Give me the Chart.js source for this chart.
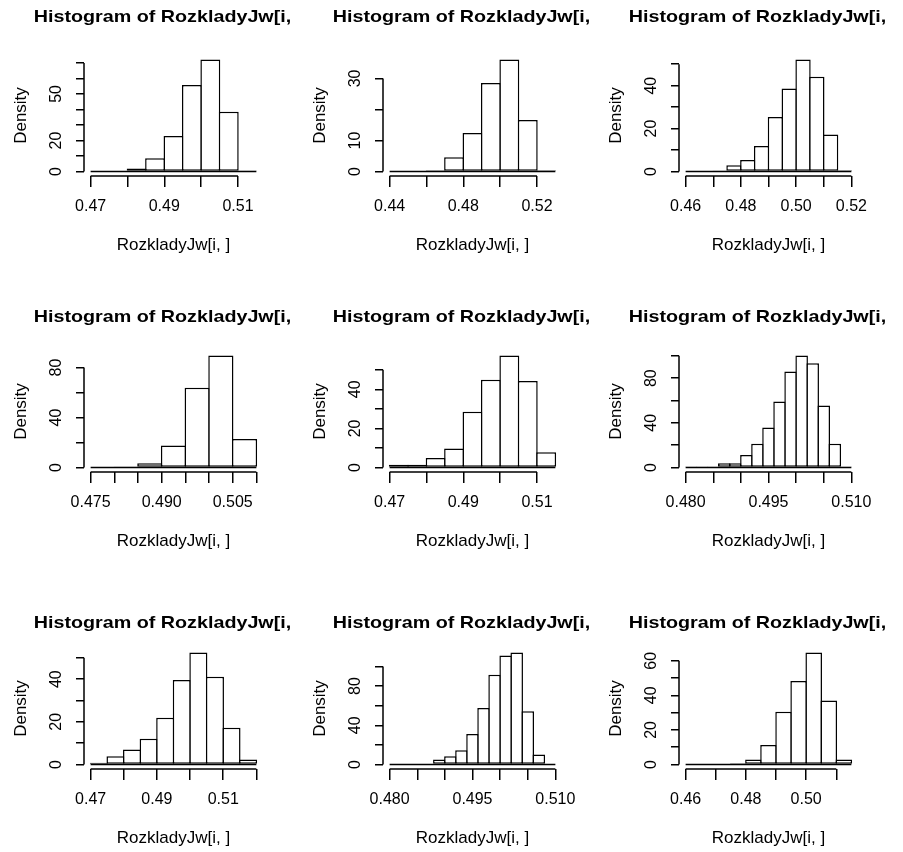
<!DOCTYPE html>
<html>
<head>
<meta charset="utf-8">
<script src="https://cdn.jsdelivr.net/npm/chart.js@4.4.1/dist/chart.umd.min.js"></script>
<style>
  html, body { margin: 0; padding: 0; background: #fff; }
  #wrap { position: relative; width: 903px; height: 852px; overflow: hidden; background: #fff; }
  canvas { position: absolute; }
</style>
</head>
<body>
<div id="wrap"></div>
<script>
const mainTitle = 'Histogram of RozkladyJw[i, ]';
const xTitle = 'RozkladyJw[i, ]';
const yTitle = 'Density';

// panel 1
const breaks1 = [0.470, 0.475, 0.480, 0.485, 0.490, 0.495, 0.500, 0.505, 0.510, 0.515];
const dens1 = [0, 0, 2.0, 8.6, 22.9, 55.7, 72.2, 38.5, 0.6];
const xTicks1 = [0.47, 0.48, 0.49, 0.50, 0.51];
const xLab1 = ['0.47', '', '0.49', '', '0.51'];
const yTicks1 = [0, 10, 20, 30, 40, 50, 60, 70];
const yLab1 = ['0', '', '20', '', '', '50', '', ''];

// panel 2
const breaks2 = [0.44, 0.45, 0.46, 0.47, 0.48, 0.49, 0.50, 0.51, 0.52, 0.53];
const dens2 = [0, 0, 0.4, 4.6, 12.4, 28.5, 36.1, 16.6, 0.4];
const xTicks2 = [0.44, 0.46, 0.48, 0.50, 0.52];
const xLab2 = ['0.44', '', '0.48', '', '0.52'];
const yTicks2 = [0, 10, 20, 30];
const yLab2 = ['0', '10', '', '30'];

// panel 3
const breaks3 = [0.460, 0.465, 0.470, 0.475, 0.480, 0.485, 0.490, 0.495, 0.500, 0.505, 0.510, 0.515, 0.520];
const dens3 = [0, 0, 0.5, 2.9, 5.4, 11.9, 25.4, 38.7, 52.2, 44.1, 17.2, 0.6];
const xTicks3 = [0.46, 0.47, 0.48, 0.49, 0.50, 0.51, 0.52];
const xLab3 = ['0.46', '', '0.48', '', '0.50', '', '0.52'];
const yTicks3 = [0, 10, 20, 30, 40, 50];
const yLab3 = ['0', '', '20', '', '40', ''];

// panel 4
const breaks4 = [0.475, 0.480, 0.485, 0.490, 0.495, 0.500, 0.505, 0.510];
const dens4 = [0, 0.8, 3.5, 17.6, 63.7, 89.6, 22.9];
const xTicks4 = [0.475, 0.480, 0.485, 0.490, 0.495, 0.500, 0.505, 0.510];
const xLab4 = ['0.475', '', '', '0.490', '', '', '0.505', ''];
const yTicks4 = [0, 20, 40, 60, 80];
const yLab4 = ['0', '', '40', '', '80'];

// panel 5
const breaks5 = [0.470, 0.475, 0.480, 0.485, 0.490, 0.495, 0.500, 0.505, 0.510, 0.515];
const dens5 = [1.4, 1.4, 4.9, 9.7, 28.5, 44.9, 57.3, 44.2, 7.8];
const xTicks5 = [0.47, 0.48, 0.49, 0.50, 0.51];
const xLab5 = ['0.47', '', '0.49', '', '0.51'];
const yTicks5 = [0, 10, 20, 30, 40, 50];
const yLab5 = ['0', '', '20', '', '40', ''];

// panel 6
const breaks6 = [0.480, 0.482, 0.484, 0.486, 0.488, 0.490, 0.492, 0.494, 0.496, 0.498, 0.500, 0.502, 0.504, 0.506, 0.508, 0.510];
const dens6 = [0.8, 0.8, 0.8, 3.9, 3.9, 11.3, 21.2, 35.8, 59.1, 86.0, 100.3, 93.4, 55.5, 21.2, 1.0];
const xTicks6 = [0.480, 0.485, 0.490, 0.495, 0.500, 0.505, 0.510];
const xLab6 = ['0.480', '', '', '0.495', '', '', '0.510'];
const yTicks6 = [0, 20, 40, 60, 80, 100];
const yLab6 = ['0', '', '40', '', '80', ''];

// panel 7
const breaks7 = [0.470, 0.475, 0.480, 0.485, 0.490, 0.495, 0.500, 0.505, 0.510, 0.515, 0.520];
const dens7 = [0.8, 3.9, 7.0, 12.1, 21.9, 39.6, 52.5, 41.1, 17.2, 2.3];
const xTicks7 = [0.47, 0.48, 0.49, 0.50, 0.51, 0.52];
const xLab7 = ['0.47', '', '0.49', '', '0.51', ''];
const yTicks7 = [0, 10, 20, 30, 40, 50];
const yLab7 = ['0', '', '20', '', '40', ''];

// panel 8
const breaks8 = [0.480, 0.482, 0.484, 0.486, 0.488, 0.490, 0.492, 0.494, 0.496, 0.498, 0.500, 0.502, 0.504, 0.506, 0.508, 0.510];
const dens8 = [0, 0, 0.7, 0.7, 5.1, 8.5, 14.6, 31.2, 57.6, 91.5, 111.2, 114.2, 54.2, 10.2, 0];
const xTicks8 = [0.480, 0.485, 0.490, 0.495, 0.500, 0.505, 0.510];
const xLab8 = ['0.480', '', '', '0.495', '', '', '0.510'];
const yTicks8 = [0, 20, 40, 60, 80, 100];
const yLab8 = ['0', '', '40', '', '80', ''];

// panel 9
const breaks9 = [0.460, 0.465, 0.470, 0.475, 0.480, 0.485, 0.490, 0.495, 0.500, 0.505, 0.510, 0.515];
const dens9 = [0, 0, 0, 0.7, 2.9, 11.3, 30.5, 48.3, 64.8, 37.0, 2.9];
const xTicks9 = [0.46, 0.47, 0.48, 0.49, 0.50, 0.51];
const xLab9 = ['0.46', '', '0.48', '', '0.50', ''];
const yTicks9 = [0, 10, 20, 30, 40, 50, 60];
const yLab9 = ['0', '', '20', '', '40', '', '60'];

const panels = [
    { breaks: breaks1, dens: dens1, xt: xTicks1, xl: xLab1, yt: yTicks1, yl: yLab1 },
    { breaks: breaks2, dens: dens2, xt: xTicks2, xl: xLab2, yt: yTicks2, yl: yLab2 },
    { breaks: breaks3, dens: dens3, xt: xTicks3, xl: xLab3, yt: yTicks3, yl: yLab3 },
    { breaks: breaks4, dens: dens4, xt: xTicks4, xl: xLab4, yt: yTicks4, yl: yLab4 },
    { breaks: breaks5, dens: dens5, xt: xTicks5, xl: xLab5, yt: yTicks5, yl: yLab5 },
    { breaks: breaks6, dens: dens6, xt: xTicks6, xl: xLab6, yt: yTicks6, yl: yLab6 },
    { breaks: breaks7, dens: dens7, xt: xTicks7, xl: xLab7, yt: yTicks7, yl: yLab7 },
    { breaks: breaks8, dens: dens8, xt: xTicks8, xl: xLab8, yt: yTicks8, yl: yLab8 },
    { breaks: breaks9, dens: dens9, xt: xTicks9, xl: xLab9, yt: yTicks9, yl: yLab9 }
];

// layout of the 3x3 grid (pixels); canvas width also clips the title like R does
const colLeft = [0, 299, 595];
const colWidth = [296, 294, 296];
const rowTop = [0, 296, 593];
const rowHeight = [296, 297, 259];
const titleBase = [22, 322, 628];
const plotLeft = 84, plotTop = 55, plotW = 179, plotH = 121, xBox = 80;
const LW = 1.5;
const FONT = '"Liberation Sans", Arial, Helvetica, sans-serif';

Chart.defaults.font.family = FONT;
Chart.defaults.color = '#000';

// R style axes: line only from first to last tick, rotated y labels, clipped title
function rAxes(p, titleY) {
    return {
        id: 'rAxes',
        afterDraw(chart) {
            const { ctx, chartArea: ca, scales: { x, y } } = chart;
            ctx.save();
            ctx.strokeStyle = '#000';
            ctx.lineWidth = LW;
            ctx.beginPath();
            ctx.moveTo(x.getPixelForValue(p.xt[0]), ca.bottom);
            ctx.lineTo(x.getPixelForValue(p.xt[p.xt.length - 1]), ca.bottom);
            ctx.moveTo(ca.left, y.getPixelForValue(p.yt[0]));
            ctx.lineTo(ca.left, y.getPixelForValue(p.yt[p.yt.length - 1]));
            ctx.stroke();

            ctx.fillStyle = '#000';
            ctx.font = '16px ' + FONT;
            ctx.textAlign = 'center';
            ctx.textBaseline = 'middle';
            p.yt.forEach((v, k) => {
                if (!p.yl[k]) return;
                ctx.save();
                ctx.translate(ca.left - 27, y.getPixelForValue(v));
                ctx.rotate(-Math.PI / 2);
                ctx.fillText(p.yl[k], 0, 0);
                ctx.restore();
            });

            ctx.font = 'bold 17px ' + FONT;
            ctx.textBaseline = 'alphabetic';
            ctx.translate((ca.left + ca.right) / 2 - 5, titleY);
            ctx.scale(1.16, 1);
            ctx.fillText(mainTitle, 0, 0);
            ctx.restore();
        }
    };
}

const wrap = document.getElementById('wrap');

panels.forEach((p, i) => {
    const r = Math.floor(i / 3), c = i % 3;
    const cw = colWidth[c], ch = rowHeight[r];
    const cv = document.createElement('canvas');
    cv.width = cw;
    cv.height = ch;
    cv.style.left = colLeft[c] + 'px';
    cv.style.top = rowTop[r] + 'px';
    wrap.appendChild(cv);

    const lo = p.breaks[0], hi = p.breaks[p.breaks.length - 1];
    const padX = (hi - lo) * 0.04;
    const top = Math.max(...p.dens);
    const padY = top * 0.04;
    const binPx = (p.breaks[1] - p.breaks[0]) / (hi - lo + 2 * padX) * plotW;
    const bars = p.dens.map((d, k) => ({ x: (p.breaks[k] + p.breaks[k + 1]) / 2, y: d }));

    new Chart(cv, {
        type: 'bar',
        data: {
            datasets: [{
                type: 'bar',
                data: bars,
                backgroundColor: '#fff',
                borderColor: '#000',
                borderWidth: LW,
                borderSkipped: false,
                categoryPercentage: 1,
                barPercentage: (binPx + LW) / binPx,
                order: 2
            }, {
                type: 'line',
                data: [{ x: lo, y: 0 }, { x: hi, y: 0 }],
                borderColor: '#000',
                borderWidth: LW,
                pointRadius: 0,
                order: 1
            }]
        },
        options: {
            responsive: false,
            animation: false,
            events: [],
            layout: {
                padding: { left: 0, top: plotTop, right: cw - plotLeft - plotW, bottom: ch - plotTop - plotH - xBox }
            },
            plugins: {
                legend: { display: false },
                tooltip: { enabled: false },
                title: { display: false }
            },
            scales: {
                x: {
                    type: 'linear',
                    min: lo - padX,
                    max: hi + padX,
                    offset: false,
                    bounds: 'data',
                    afterBuildTicks: s => { s.ticks = p.xt.map(v => ({ value: v })); },
                    afterFit: s => { s.height = xBox; },
                    grid: { drawOnChartArea: false, drawTicks: true, tickLength: 11, color: '#000', lineWidth: LW, offset: false },
                    border: { display: false },
                    ticks: {
                        autoSkip: false, maxRotation: 0, minRotation: 0, padding: 10,
                        font: { size: 16 }, color: '#000',
                        callback: (v, k) => p.xl[k]
                    },
                    title: { display: true, text: xTitle, font: { size: 17 }, color: '#000', padding: { top: 0, bottom: 0 } }
                },
                y: {
                    type: 'linear',
                    min: -padY,
                    max: top + padY,
                    bounds: 'data',
                    afterBuildTicks: s => { s.ticks = p.yt.map(v => ({ value: v })); },
                    afterFit: s => { s.width = plotLeft; },
                    grid: { drawOnChartArea: false, drawTicks: true, tickLength: 8, color: '#000', lineWidth: LW },
                    border: { display: false },
                    ticks: { display: false },
                    title: { display: true, text: yTitle, font: { size: 17 }, color: '#000', padding: { top: 11, bottom: 0 } }
                }
            }
        },
        plugins: [rAxes(p, titleBase[r] - rowTop[r])]
    });
});
</script>
</body>
</html>
